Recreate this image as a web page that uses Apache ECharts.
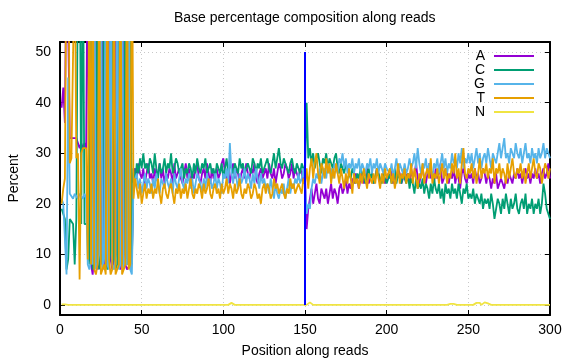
<!DOCTYPE html>
<html><head><meta charset="utf-8">
<script src="https://cdn.jsdelivr.net/npm/echarts@6/dist/echarts.min.js"></script>
<style>html,body{margin:0;padding:0;background:#fff}#c{width:576px;height:360px}</style>
</head><body><div id="c"></div>
<script>
const seriesNames = ['A', 'C', 'G', 'T', 'N'];
const colors = ['#9400d3', '#009e73', '#56b4e9', '#e69f00', '#f0e442'];
const yTicks = [0, 10, 20, 30, 40, 50];
const boundaryX = [150, 150];
const boundaryY = [0, 50];

// values for read positions 1..300
const A = [
39,43,36,72,55,33,33,33,33,33, 32,31,32,31,32,31,74,9,8,6,
10,78,7,9,8,80,7,10,8,76, 9,7,8,79,10,8,7,9,77,8,
7,7,8,9,26,27,25,28,26,25, 27,24,26,28,25,26,24,27,25,26,
28,25,27,24,26,25,27,26,24,28, 25,26,27,25,24,26,28,25,27,24,
26,25,27,28,25,24,26,27,25,28, 26,24,27,25,26,27,25,26,28,29,
26,25,27,24,26,28,25,27,26,24, 26,27,25,28,26,25,27,26,28,25,
24,26,27,25,26,27,25,28,26,25, 27,24,26,28,27,25,26,28,27,25,
26,28,25,27,26,25,27,26,24,26, 15,19,21,23,20,22,24,21,20,23,
22,21,23,20,22,24,21,23,22,20, 23,24,22,23,25,22,24,23,25,24,
26,25,23,25,26,24,25,27,24,25, 26,24,25,27,26,24,25,26,24,25,
26,25,27,24,26,25,27,26,24,25, 27,25,26,24,27,25,26,28,25,24,
26,27,25,24,26,28,25,26,24,27, 25,26,28,24,25,27,26,24,26,25,
27,24,26,25,23,26,27,25,24,26, 25,26,24,27,25,26,24,25,27,26,
24,26,25,23,25,24,26,23,24,25, 24,23,25,24,26,25,24,26,25,27,
25,26,24,26,27,25,26,24,26,25, 27,25,26,24,26,27,25,26,28,25
];
const C = [
19,18,17,7,9,17,17,16,8,17, 70,78,16,75,16,16,16,8,77,7,
9,8,79,7,10,8,76,9,7,8, 11,78,9,7,8,80,9,8,10,76,
8,9,78,8,27,24,28,26,29,27, 30,27,28,26,29,28,26,30,27,25,
28,26,27,29,26,28,27,30,26,27, 29,28,26,27,28,25,27,26,28,27,
25,28,26,29,27,26,28,27,29,26, 27,28,26,27,25,28,27,26,28,25,
27,29,26,28,27,26,28,27,26,29, 27,28,26,27,28,27,26,29,28,26,
28,27,29,26,27,28,29,27,26,28, 30,27,29,31,28,27,29,28,27,26,
28,29,27,26,28,27,26,28,27,26, 40,29,31,28,30,27,29,30,28,26,
29,28,30,27,29,28,27,29,30,27, 26,28,27,26,28,27,26,25,27,26,
24,26,25,27,26,25,24,26,27,25, 26,24,25,27,26,25,24,26,25,24,
25,26,24,25,27,24,26,25,24,26, 25,24,26,23,25,24,22,25,23,24,
23,25,22,24,23,21,24,22,25,23, 22,24,21,23,20,24,22,23,21,24,
22,23,21,24,22,20,23,22,24,21, 22,21,23,20,22,21,20,22,19,21,
20,21,19,22,20,17,19,21,20,18, 21,19,22,20,18,21,19,20,22,19,
18,20,21,19,22,18,20,19,21,18, 20,19,21,18,20,24,22,19,18,17
];
const G = [
21,20,20,6,45,22,22,21,22,22, 21,22,22,21,22,21,8,7,9,8,
79,7,8,10,77,7,9,78,8,7, 76,8,7,9,78,7,8,79,7,9,
8,77,7,6,24,24,26,23,25,22, 24,26,23,25,24,22,25,23,26,24,
22,25,24,23,26,24,23,25,22,26, 24,23,25,27,24,23,25,24,26,23,
25,22,24,26,25,24,22,25,23,26, 24,25,23,24,26,23,25,24,22,26,
25,27,24,32,26,24,27,25,23,26, 24,25,27,24,26,25,23,26,24,27,
25,23,26,24,25,23,24,22,25,23, 21,24,22,21,23,22,24,21,23,25,
22,24,23,25,24,26,24,25,27,24, 18,20,19,23,25,24,26,25,27,24,
26,27,25,28,26,27,25,28,27,26, 29,28,30,27,29,26,28,27,29,26,
28,27,29,26,28,27,26,28,27,29, 26,28,27,29,26,28,27,26,28,27,
27,26,28,25,27,29,26,28,27,26, 28,26,27,29,27,28,30,27,31,28,
26,28,27,29,26,28,27,25,28,27, 29,26,28,30,27,29,26,28,27,30,
28,29,27,30,28,31,27,29,28,30, 28,30,27,29,31,28,30,27,29,30,
28,31,29,27,30,29,28,30,32,29, 31,33,29,30,28,31,30,29,32,30,
29,31,28,30,32,29,30,28,31,29, 30,28,31,29,30,32,29,31,30,29
];
const T = [
20,23,25,76,80,28,29,29,70,29, 30,5,30,31,31,31,9,76,8,79,
7,6,8,74,6,7,8,6,77,9, 6,7,76,6,7,8,77,6,7,8,
78,7,8,79,21,25,23,21,24,20, 22,24,21,23,22,24,21,23,22,25,
22,20,23,24,22,21,23,24,22,20, 23,22,24,21,23,22,24,21,23,25,
22,21,23,22,24,23,21,24,22,23, 25,22,21,23,24,22,23,21,24,22,
23,25,22,24,23,21,24,22,23,25, 22,21,23,22,24,23,21,22,24,23,
21,22,20,23,24,22,24,23,21,22, 25,23,24,22,23,24,22,21,23,22,
25,23,24,22,23,24,23,22,25,24, 27,23,27,29,25,28,30,26,24,28,
27,25,29,26,28,24,27,25,28,26, 24,27,25,23,26,24,27,25,22,26,
24,25,23,26,24,27,25,23,26,25, 24,26,24,27,25,23,26,24,27,25,
25,27,24,26,23,25,28,24,26,25, 27,24,26,25,28,24,27,25,23,26,
25,28,24,26,27,25,29,24,26,25, 27,24,26,28,25,27,24,26,25,28,
26,30,25,27,24,28,31,26,25,27, 26,28,25,27,24,26,29,25,27,26,
28,25,27,26,29,24,27,26,28,25, 27,26,24,28,25,27,29,26,25,27,
26,28,25,27,24,26,28,25,27,29, 26,25,28,27,24,26,28,27,25,27
];
const N = [
0.1,0.1,0.1,0,0,0,0,0,0,0,0,0,0,0,0,0,0,0,0,0,
0,0,0,0,0,0,0,0,0,0,0,0,0,0,0,0,0,0,0,0,
0,0,0,0,0,0,0,0,0,0,0,0,0,0,0,0,0,0,0,0,
0,0,0,0,0,0,0,0,0,0,0,0,0,0,0,0,0,0,0,0,
0,0,0,0,0,0,0,0,0,0,0,0,0,0,0,0,0,0,0,0,
0,0,0,0.3,0.4,0.3,0,0,0,0,0,0,0,0,0,0,0,0,0,0,
0,0,0,0,0,0,0,0,0,0,0,0,0,0,0,0,0,0,0,0,
0,0,0,0,0,0,0,0,0,0,0,0,0.5,0.3,0,0,0,0,0,0,
0,0,0,0,0,0,0,0,0,0,0,0,0,0,0,0,0,0,0,0,
0,0,0,0,0,0,0,0,0,0,0,0,0,0,0,0,0,0,0,0,
0,0,0,0,0,0,0,0,0,0,0,0,0,0,0,0,0,0,0,0,
0,0,0,0,0,0,0,0,0,0,0,0,0,0,0,0,0,0,0.2,0.4,
0.2,0,0,0,0,0,0,0,0,0,0,0,0,0,0.4,0.5,0.4,0,0,0.5,
0.6,0.3,0,0,0,0,0,0,0,0,0,0,0,0,0,0,0,0,0,0,
0,0,0,0,0,0,0,0,0,0,0,0,0,0,0,0,0,0,0,0
];

const FONT = 'Liberation Sans';
const allSeries = [A, C, G, T, N];
const positions = A.map((_, i) => i + 1);

const series = allSeries.map((arr, k) => ({
  name: seriesNames[k],
  type: 'line',
  data: positions.map((p, i) => [p, arr[i]]),
  symbol: 'none',
  color: colors[k],
  lineStyle: { width: 1.8, color: colors[k] },
  z: 2
}));
series.push({
  name: 'boundary',
  type: 'line',
  data: boundaryX.map((x, i) => [x, boundaryY[i]]),
  symbol: 'none',
  color: '#0000ff',
  lineStyle: { width: 2, color: '#0000ff' },
  z: 4
});

const axisLineStyle = { show: true, onZero: false, lineStyle: { color: '#000', width: 2 } };
const gridLineStyle = { show: true, lineStyle: { color: '#c8c8c8', width: 1, type: [1, 3] } };
const labelStyle = { color: '#000', fontSize: 14, fontFamily: FONT };
const legendLine = 'path://M0,0M0,6L40,6L40,8L0,8ZM40,14';

const chart = echarts.init(document.getElementById('c'), null, { renderer: 'canvas' });
chart.setOption({
  animation: false,
  backgroundColor: '#fff',
  title: {
    text: 'Base percentage composition along reads',
    left: 174,
    top: 11,
    padding: 0,
    textStyle: { color: '#000', fontSize: 14, fontWeight: 'normal', fontFamily: FONT }
  },
  legend: {
    data: seriesNames.map(n => ({ name: n, icon: legendLine })),
    orient: 'vertical',
    right: 37,
    top: 44,
    align: 'right',
    itemWidth: 40,
    itemHeight: 14,
    itemGap: 0,
    textStyle: { color: '#000', fontSize: 14, fontFamily: FONT, padding: [0, 4, 0, 0] }
  },
  grid: { left: 60, right: 26, top: 42, bottom: 45, outerBoundsMode: 'none', containLabel: false },
  xAxis: [{
    type: 'value', min: 0, max: 300, interval: 50, position: 'bottom',
    axisLine: axisLineStyle,
    axisTick: { show: true, inside: true, length: 5, lineStyle: { color: '#000', width: 1 } },
    axisLabel: Object.assign({ margin: 8 }, labelStyle),
    splitLine: gridLineStyle,
    name: 'Position along reads', nameLocation: 'middle', nameGap: 29,
    nameTextStyle: labelStyle
  }, {
    type: 'value', min: 0, max: 300, interval: 50, position: 'top',
    axisLine: axisLineStyle,
    axisTick: { show: true, inside: true, length: 5, lineStyle: { color: '#000', width: 1 } },
    axisLabel: { show: false },
    splitLine: { show: false }
  }],
  yAxis: [{
    type: 'value', min: -2, max: 52, position: 'left',
    axisLine: axisLineStyle,
    axisTick: { show: true, inside: true, length: 5, customValues: yTicks, lineStyle: { color: '#000', width: 1 } },
    axisLabel: Object.assign({ margin: 9, customValues: yTicks }, labelStyle),
    splitLine: gridLineStyle,
    name: 'Percent', nameLocation: 'middle', nameGap: 39, nameRotate: 90,
    nameTextStyle: labelStyle
  }, {
    type: 'value', min: -2, max: 52, position: 'right',
    axisLine: axisLineStyle,
    axisTick: { show: true, inside: true, length: 5, customValues: yTicks, lineStyle: { color: '#000', width: 1 } },
    axisLabel: { show: false, customValues: yTicks },
    splitLine: { show: false }
  }],
  series: series
});
</script>
</body></html>
